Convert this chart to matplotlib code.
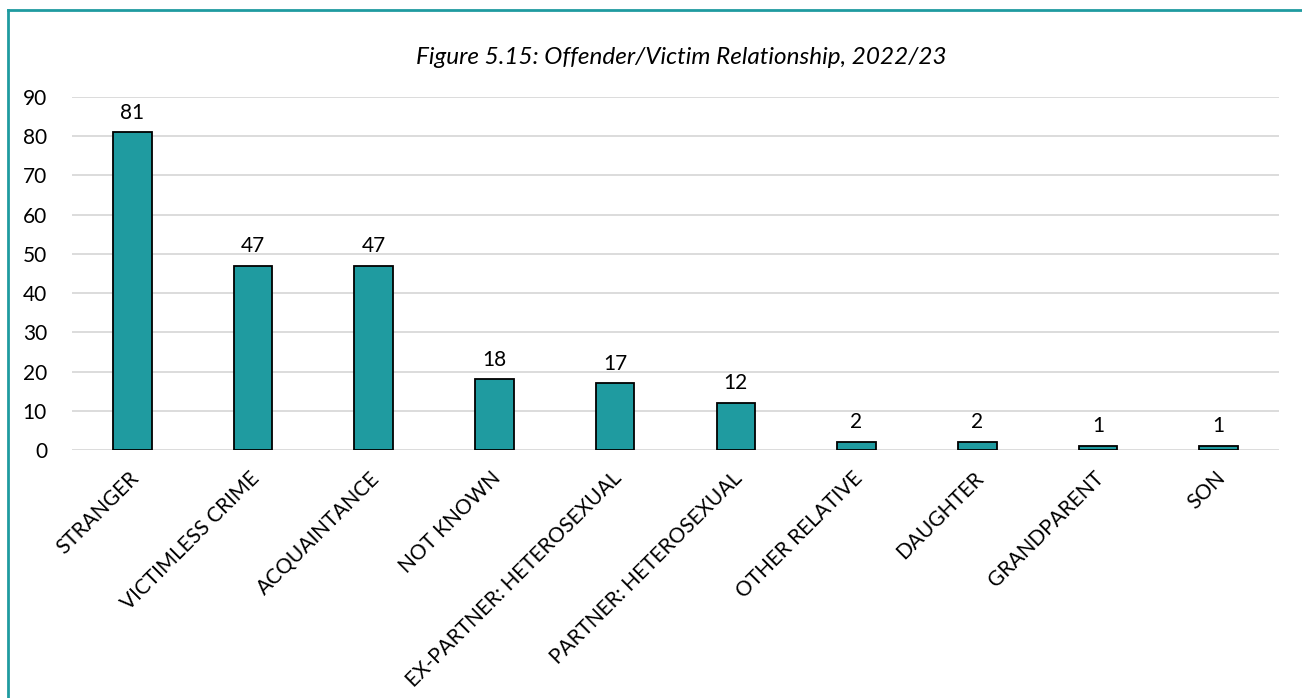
import matplotlib.pyplot as plt
import matplotlib.transforms as mtransforms
from matplotlib.lines import Line2D

categories = ["STRANGER", "VICTIMLESS CRIME", "ACQUAINTANCE", "NOT KNOWN",
              "EX-PARTNER: HETEROSEXUAL", "PARTNER: HETEROSEXUAL",
              "OTHER RELATIVE", "DAUGHTER", "GRANDPARENT", "SON"]
counts = [81, 47, 47, 18, 17, 12, 2, 2, 1, 1]
yticks = [0, 10, 20, 30, 40, 50, 60, 70, 80, 90]

TEAL = "#1f9ba0"

plt.rcParams['font.family'] = ['Lato', 'DejaVu Sans']

fig = plt.figure(figsize=(13.02, 6.98), dpi=100)
ax = fig.add_axes([72 / 1302, 1 - 450 / 698, (1279 - 72) / 1302, (450 - 97) / 698])

x = range(len(categories))
bars = ax.bar(x, counts, width=0.32, color=TEAL, edgecolor="black", linewidth=1.3, zorder=3)
for b, v in zip(bars, counts):
    ax.annotate(str(v), (b.get_x() + b.get_width() / 2, v), xytext=(0, 7),
                textcoords="offset points", ha="center", va="bottom", fontsize=15)

ax.set_xlim(-0.5, len(categories) - 0.5)
ax.set_ylim(0, 90)
ax.set_yticks(yticks)
ax.tick_params(axis="y", length=0, pad=18, labelsize=15)
ax.tick_params(axis="x", length=0, pad=13, labelsize=15)
ax.set_xticks(list(x))
ax.set_xticklabels(categories, rotation=45, ha="right", rotation_mode="anchor")
shift = mtransforms.ScaledTranslation(-4 / 100, 0, fig.dpi_scale_trans)
for lbl in ax.get_xticklabels():
    lbl.set_transform(lbl.get_transform() + shift)
ax.grid(axis="y", color="#d9d9d9", linewidth=1.3, zorder=0)
for s in ax.spines.values():
    s.set_visible(False)

fig.text(681 / 1302, 1 - 57 / 698, "Figure 5.15: Offender/Victim Relationship, 2022/23",
         ha="center", va="center", fontsize=17.5, style="italic")

# outer frame: only top and left edges visible
fig.add_artist(Line2D([8 / 1302, 8 / 1302], [0, 1 - 10 / 698], color=TEAL, linewidth=2,
                      transform=fig.transFigure))
fig.add_artist(Line2D([8 / 1302, 1], [1 - 10 / 698, 1 - 10 / 698], color=TEAL, linewidth=2,
                      transform=fig.transFigure))

fig.savefig("out.png", dpi=100, facecolor="white")
